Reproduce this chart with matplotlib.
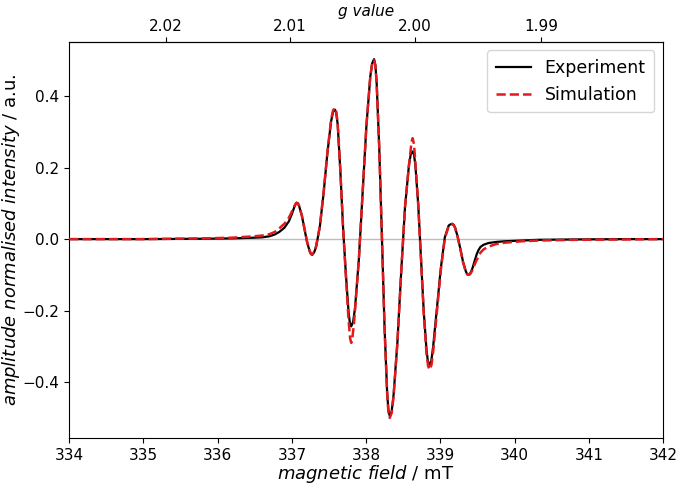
import matplotlib
matplotlib.use("Agg")
import matplotlib.pyplot as plt

# ---------------- data ----------------
field_exp = [334.0, 335.0, 335.8, 336.2, 336.5, 336.6, 336.7, 336.77, 336.83, 336.9, 336.96, 337.0, 337.03,
             337.05, 337.063, 337.081, 337.098, 337.134, 337.169, 337.204, 337.24, 337.257, 337.275,
             337.3, 337.326, 337.377, 337.428, 337.478, 337.529, 337.555, 337.58,
             337.598, 337.617, 337.653, 337.69, 337.726, 337.763, 337.781, 337.799,
             337.825, 337.85, 337.902, 337.953, 338.004, 338.056, 338.081, 338.107,
             338.125, 338.142, 338.177, 338.213, 338.248, 338.283, 338.3, 338.318,
             338.344, 338.37, 338.421, 338.473, 338.524, 338.576, 338.601, 338.627,
             338.646, 338.664, 338.702, 338.739, 338.776, 338.814, 338.832, 338.851,
             338.877, 338.903, 338.955, 339.007, 339.06, 339.112, 339.134, 339.16,
             339.178, 339.197, 339.233, 339.27, 339.306, 339.343, 339.361, 339.379,
             339.4, 339.43, 339.46, 339.49, 339.513, 339.54, 339.58, 339.647, 339.75, 339.87,
             340.1, 340.32, 340.8, 341.5, 342.0]
int_exp = [0.0, 0.0, 0.001, 0.002, 0.004, 0.005, 0.008, 0.013, 0.02, 0.032, 0.05, 0.07, 0.088,
           0.098, 0.102, 0.1, 0.092, 0.066, 0.029, -0.008, -0.034, -0.042, -0.044,
           -0.037, -0.022, 0.035, 0.13, 0.24, 0.33, 0.356, 0.362,
           0.352, 0.321, 0.19, 0.03, -0.093, -0.203, -0.234, -0.244,
           -0.231, -0.194, -0.057, 0.13, 0.317, 0.454, 0.491, 0.503,
           0.486, 0.436, 0.254, 0.004, -0.246, -0.428, -0.478, -0.495,
           -0.482, -0.435, -0.29, -0.09, 0.09, 0.205, 0.237, 0.245,
           0.235, 0.205, 0.096, -0.053, -0.202, -0.311, -0.341, -0.351,
           -0.342, -0.3, -0.19, -0.08, 0.005, 0.038, 0.041, 0.043,
           0.04, 0.033, 0.007, -0.028, -0.064, -0.09, -0.098, -0.10,
           -0.097, -0.083, -0.062, -0.042, -0.031, -0.022, -0.016, -0.011, -0.008, -0.006,
           -0.004, -0.002, -0.001, 0.0, 0.0]

field_sim = [334.0, 335.0, 335.8, 336.2, 336.5, 336.6, 336.7, 336.77, 336.83, 336.9, 336.96, 337.0, 337.03,
             337.05, 337.066, 337.083, 337.1, 337.134, 337.169, 337.204, 337.24, 337.257, 337.275,
             337.3, 337.326, 337.377, 337.428, 337.478, 337.529, 337.555, 337.58,
             337.598, 337.617, 337.653, 337.69, 337.726, 337.763, 337.785, 337.8, 337.815, 337.835,
             337.85, 337.902, 337.953, 338.004, 338.056, 338.081, 338.107,
             338.125, 338.142, 338.177, 338.213, 338.248, 338.283, 338.3, 338.318,
             338.344, 338.37, 338.421, 338.473, 338.524, 338.576, 338.595, 338.612, 338.627, 338.645,
             338.667, 338.702, 338.739, 338.776, 338.814, 338.835, 338.855,
             338.88, 338.903, 338.955, 339.007, 339.06, 339.112, 339.136, 339.162,
             339.18, 339.197, 339.233, 339.27, 339.306, 339.343, 339.363, 339.382,
             339.4, 339.43, 339.46, 339.49, 339.513, 339.54, 339.58, 339.647, 339.75, 339.87,
             340.1, 340.32, 340.8, 341.5, 342.0]
int_sim = [0.0, 0.0, 0.002, 0.004, 0.008, 0.01, 0.014, 0.02, 0.03, 0.043, 0.06, 0.077, 0.091,
           0.098, 0.101, 0.099, 0.092, 0.066, 0.03, -0.006, -0.033, -0.041, -0.043,
           -0.036, -0.02, 0.037, 0.132, 0.242, 0.335, 0.36, 0.367,
           0.356, 0.323, 0.19, 0.03, -0.10, -0.225, -0.278, -0.29, -0.275, -0.24,
           -0.2, -0.057, 0.13, 0.317, 0.454, 0.49, 0.50,
           0.485, 0.436, 0.254, 0.004, -0.246, -0.43, -0.482, -0.50,
           -0.486, -0.44, -0.29, -0.09, 0.09, 0.205, 0.24, 0.272, 0.282, 0.265,
           0.205, 0.096, -0.055, -0.208, -0.322, -0.355, -0.365,
           -0.352, -0.315, -0.2, -0.085, 0.002, 0.036, 0.04, 0.042,
           0.039, 0.032, 0.006, -0.029, -0.065, -0.092, -0.099, -0.10,
           -0.098, -0.088, -0.072, -0.058, -0.049, -0.038, -0.029, -0.021, -0.014, -0.01,
           -0.006, -0.004, -0.002, -0.001, 0.0]

g_ticks = [2.02, 2.01, 2.00, 1.99]
g_const = 677.32  # g * B (mT)

# ---------------- plot ----------------
fig = plt.figure(figsize=(6.78, 4.84), dpi=100)
ax = fig.add_axes([0.102, 0.095, 0.876, 0.819])

ax.axhline(0, color="#bdbdbd", lw=1.0, zorder=1)
ax.plot(field_exp, int_exp, color="black", lw=1.6, label="Experiment", zorder=2)
ax.plot(field_sim, int_sim, color="#e31a1c", lw=1.8, ls="--", label="Simulation", zorder=3)

ax.set_xlim(334, 342)
ax.set_ylim(-0.556, 0.552)
ax.set_yticks([-0.4, -0.2, 0.0, 0.2, 0.4])
ax.tick_params(labelsize=11)

ax.set_xlabel(r"$\mathit{magnetic\ field}$ / mT", fontsize=13, labelpad=0)
ax.set_ylabel(r"$\mathit{amplitude\ normalised\ intensity}$ / a.u.", fontsize=13)
ax.yaxis.set_label_coords(-0.08, 0.5)

sec = ax.secondary_xaxis("top", functions=(lambda b: g_const / b, lambda g: g_const / g))
sec.set_xticks(g_ticks)
sec.set_xticklabels([f"{v:.2f}" for v in g_ticks])
sec.tick_params(labelsize=11, pad=2)
sec.set_xlabel("g value", fontsize=11, style="italic", labelpad=2)

ax.legend(loc="upper right", fontsize=12.5, handlelength=2.0, borderpad=0.5)

fig.savefig("out.png", dpi=100)
